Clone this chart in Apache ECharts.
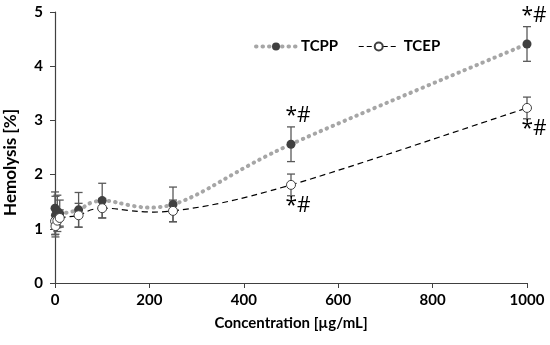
<!DOCTYPE html>
<html><head><meta charset="utf-8">
<script src="https://cdn.jsdelivr.net/npm/echarts@6/dist/echarts.min.js"></script>
<style>html,body{margin:0;padding:0;background:#fff}#c{width:550px;height:345px}</style>
</head><body><div id="c"></div>
<script>
const concentrations = [0.1, 1, 5, 10, 50, 100, 250, 500, 1000];
const tcpp = [1.38, 1.25, 1.32, 1.28, 1.35, 1.52, 1.45, 2.56, 4.41];
const tcpErr = [0.3, 0.35, 0.3, 0.25, 0.32, 0.32, 0.32, 0.32, 0.32];
const tcep = [1.14, 1.05, 1.15, 1.2, 1.25, 1.38, 1.33, 1.81, 3.23];
const tcepErr = [0.25, 0.2, 0.2, 0.15, 0.22, 0.18, 0.2, 0.2, 0.2];
const sigLabel = '*#';
const sigIdx = [7, 8];
const xTicks = [0, 200, 400, 600, 800, 1000];
const yTicks = [0, 1, 2, 3, 4, 5];

const FONT = 'Lato, "Open Sans", sans-serif';
const axisColor = '#404040';

function lineData(vals, pos) {
  return concentrations.map((c, i) => {
    const d = { value: [c, vals[i]] };
    if (sigIdx.includes(i)) {
      d.label = {
        show: true, formatter: sigLabel, position: pos,
        distance: pos === 'top' ? 13 : 6, offset: [7, 0],
        color: '#000', fontSize: 21, fontFamily: '"Open Sans", sans-serif'
      };
    }
    return d;
  });
}
function errData(vals, errs) {
  return concentrations.map((c, i) => [c, vals[i] - errs[i], vals[i] + errs[i]]);
}
function errRender(params, api) {
  const x = api.value(0);
  const lo = api.coord([x, api.value(1)]);
  const hi = api.coord([x, api.value(2)]);
  const w = 4;
  const st = { stroke: '#595959', lineWidth: 1.3 };
  return { type: 'group', children: [
    { type: 'line', shape: { x1: lo[0], y1: lo[1], x2: hi[0], y2: hi[1] }, style: st },
    { type: 'line', shape: { x1: lo[0]-w, y1: lo[1], x2: lo[0]+w, y2: lo[1] }, style: st },
    { type: 'line', shape: { x1: hi[0]-w, y1: hi[1], x2: hi[0]+w, y2: hi[1] }, style: st }
  ]};
}
// Excel-like smoothed segment (Catmull-Rom style) between point i and i+1
function smoothRender(vals, style) {
  return function (params, api) {
    const i = params.dataIndex;
    const n = concentrations.length;
    if (i >= n - 1) return null;
    const P = k => api.coord([concentrations[Math.max(0, Math.min(n - 1, k))], vals[Math.max(0, Math.min(n - 1, k))]]);
    const p0 = P(i - 1), p1 = P(i), p2 = P(i + 1), p3 = P(i + 2);
    const t = 1 / 6;
    return {
      type: 'bezierCurve',
      shape: {
        x1: p1[0], y1: p1[1], x2: p2[0], y2: p2[1],
        cpx1: p1[0] + (p2[0] - p0[0]) * t, cpy1: p1[1] + (p2[1] - p0[1]) * t,
        cpx2: p2[0] - (p3[0] - p1[0]) * t, cpy2: p2[1] - (p3[1] - p1[1]) * t
      },
      style: Object.assign({ fill: null }, style)
    };
  };
}

const tcppLine = { stroke: '#a6a6a6', lineWidth: 4, lineDash: [0.5, 6], lineCap: 'round' };
const tcepLine = { stroke: '#000', lineWidth: 1.2, lineDash: [6, 4] };

const chart = echarts.init(document.getElementById('c'), null, { renderer: 'canvas' });
chart.setOption({
  animation: false,
  textStyle: { fontFamily: FONT },
  grid: { left: 55, right: 23, top: 12, bottom: 62, containLabel: false, outerBoundsMode: 'none' },
  legend: {
    top: 34, left: 249, itemGap: 20, itemWidth: 40, itemHeight: 10,
    textStyle: { fontSize: 15, fontWeight: 'bold', color: '#000', fontFamily: FONT },
    data: [
      { name: 'TCPP', lineStyle: { color: '#a6a6a6', width: 4, type: [0.5, 6], cap: 'round', opacity: 1 } },
      { name: 'TCEP', lineStyle: { color: '#000', width: 1.2, type: [5, 3], opacity: 1 } }
    ]
  },
  xAxis: {
    type: 'value', min: xTicks[0], max: xTicks[xTicks.length - 1], interval: 200,
    name: 'Concentration [µg/mL]', nameLocation: 'middle', nameGap: 33,
    nameTextStyle: { fontSize: 15, fontWeight: 'bold', color: '#000', fontFamily: FONT },
    axisLine: { lineStyle: { color: axisColor, width: 1.2 } },
    axisTick: { show: true, length: 5, lineStyle: { color: axisColor } },
    axisLabel: { fontSize: 15, fontWeight: 'bold', color: '#000', margin: 10, fontFamily: FONT,
      formatter: v => String(v) },
    splitLine: { show: false }
  },
  yAxis: {
    type: 'value', min: yTicks[0], max: yTicks[yTicks.length - 1], interval: 1,
    name: 'Hemolysis [%]', nameLocation: 'middle', nameGap: 36, nameRotate: 90,
    nameTextStyle: { fontSize: 17, fontWeight: 'bold', color: '#000', fontFamily: FONT, padding: [0, 30, 0, 0] },
    axisLine: { show: true, lineStyle: { color: axisColor, width: 1.2 } },
    axisTick: { show: true, length: 5, lineStyle: { color: axisColor } },
    axisLabel: { fontSize: 15, fontWeight: 'bold', color: '#000', margin: 12, fontFamily: FONT },
    splitLine: { show: false }
  },
  series: [
    { type: 'custom', renderItem: smoothRender(tcpp, tcppLine), data: concentrations.map((c, i) => [c, tcpp[i]]), z: 1, silent: true },
    { type: 'custom', renderItem: smoothRender(tcep, tcepLine), data: concentrations.map((c, i) => [c, tcep[i]]), z: 1, silent: true },
    { type: 'custom', renderItem: errRender, data: errData(tcpp, tcpErr), z: 2, silent: true },
    { type: 'custom', renderItem: errRender, data: errData(tcep, tcepErr), z: 2, silent: true },
    { name: 'TCPP', type: 'line', data: lineData(tcpp, 'top'),
      symbol: 'circle', symbolSize: 9, z: 3,
      itemStyle: { color: '#404040' },
      lineStyle: { opacity: 0 } },
    { name: 'TCEP', type: 'line', data: lineData(tcep, 'bottom'),
      symbol: 'circle', symbolSize: 9, z: 3,
      itemStyle: { color: '#fff', borderColor: '#404040', borderWidth: 1 },
      lineStyle: { opacity: 0 } }
  ]
});
</script></body></html>
